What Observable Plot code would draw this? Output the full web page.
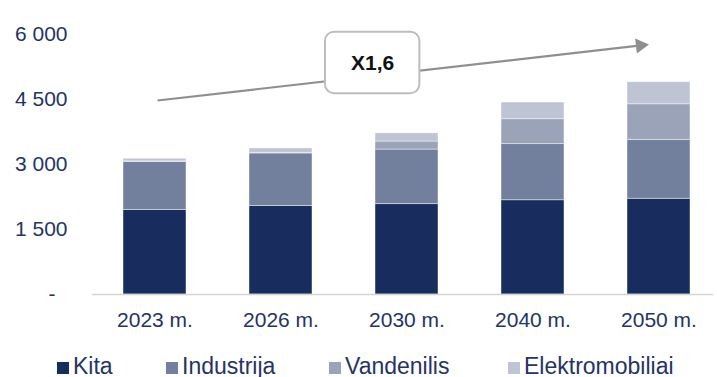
<!DOCTYPE html>
<html>
<head>
<meta charset="utf-8">
<script src="https://cdn.jsdelivr.net/npm/d3@7"></script>
<script src="https://cdn.jsdelivr.net/npm/@observablehq/plot@0.6"></script>
<style>
  html, body { margin: 0; padding: 0; background: #fff; }
  body { width: 717px; height: 377px; overflow: hidden; font-family: 'Liberation Sans', Arial, sans-serif; position: relative; }
  #legend { position: relative; height: 30px; font-size: 23px; line-height: 30px; color: #253462; white-space: nowrap; }
  #legend .item { position: absolute; top: -1px; display: inline-flex; align-items: baseline; }
  #legend .sw { display: inline-block; width: 11.5px; height: 12.5px; margin-right: 4.5px; margin-bottom: -1px; vertical-align: baseline; }
</style>
</head>
<body>
<div id="chart"></div>
<div id="legend"></div>
<script>
// ---- data ----
const years = ["2023 m.", "2026 m.", "2030 m.", "2040 m.", "2050 m."];
const series = ["Kita", "Industrija", "Vandenilis", "Elektromobiliai"];
const kita = [1950, 2040, 2085, 2175, 2210];
const industrija = [1110, 1215, 1260, 1295, 1360];
const vandenilis = [12, 15, 185, 575, 820];
const elektromobiliai = [60, 100, 190, 385, 510];
const yTicks = [0, 1500, 3000, 4500, 6000];
const yTickLabels = ["-", "1 500", "3 000", "4 500", "6 000"];
const colors = ["#182d5e", "#72809e", "#9ba3b8", "#bec4d4"];

// annotation (growth arrow) in data units
const growthLabel = "X1,6";
const arrowFrom = {x: 0.02, y: 4477};
const arrowTo = {x: 3.92, y: 5769};
const box = {x1: 1.353, x2: 2.102, y1: 4632, y2: 6053};

// legend layout (pixels from left)
const legendLeft = [57, 166, 329, 508];

const valuesBySeries = [kita, industrija, vandenilis, elektromobiliai];
const rows = [];
years.forEach((yr, i) => {
  series.forEach((s, k) => rows.push({i, year: yr, series: s, value: valuesBySeries[k][i]}));
});

const shaftEnd = {x: arrowFrom.x + 0.975 * (arrowTo.x - arrowFrom.x), y: arrowFrom.y + 0.975 * (arrowTo.y - arrowFrom.y)};

const fontFamily = "'Liberation Sans', Arial, sans-serif";
const textColor = "#253462";

const chart = Plot.plot({
  width: 717,
  height: 352,
  marginLeft: 92,
  marginRight: 4,
  marginTop: 34,
  marginBottom: 58,
  style: {fontFamily, color: textColor, background: "white", overflow: "visible"},
  x: {type: "linear", domain: [-0.5, 4.5], range: [91.5, 721.5], label: null},
  y: {domain: [0, 6000], label: null},
  color: {domain: series, range: colors},
  marks: [
    Plot.rectY(rows, {
      x1: d => d.i - 0.25, x2: d => d.i + 0.25, y: "value", fill: "series",
      stroke: "#ffffff", strokeOpacity: 0.55, strokeWidth: 0.8
    }),
    Plot.ruleY([0], {stroke: "#d4d4d4", strokeWidth: 1.6}),
    Plot.axisY(yTicks.slice(1), {
      tickSize: 0, tickPadding: 25, fontSize: 21, label: null,
      tickFormat: v => yTickLabels[yTicks.indexOf(v)]
    }),
    Plot.axisY([0], {
      tickSize: 0, tickPadding: 37, fontSize: 21, label: null,
      tickFormat: v => yTickLabels[yTicks.indexOf(v)]
    }),
    Plot.axisX(d3.range(years.length), {
      tickSize: 0, tickPadding: 18, fontSize: 21, label: null,
      tickFormat: i => years[i]
    }),
    Plot.link([0], {
      x1: () => arrowFrom.x, y1: () => arrowFrom.y,
      x2: () => shaftEnd.x, y2: () => shaftEnd.y,
      stroke: "#8f8f8f", strokeWidth: 2.2
    }),
    Plot.dot([0], {
      x: () => arrowTo.x, y: () => arrowTo.y, symbol: "triangle", r: 5.6,
      fill: "#8f8f8f", stroke: null, rotate: 83.5, dx: -8.6, dy: 1
    }),
    Plot.rect([0], {
      x1: () => box.x1, x2: () => box.x2, y1: () => box.y1, y2: () => box.y2,
      fill: "white", stroke: "#bdbdbd", strokeWidth: 2, rx: 9
    }),
    Plot.text([growthLabel], {
      x: () => (box.x1 + box.x2) / 2, y: () => (box.y1 + box.y2) / 2,
      text: d => d, fontSize: 21, fontWeight: "bold", fill: "#111111"
    })
  ]
});
document.getElementById("chart").append(chart);

const legend = document.getElementById("legend");
series.forEach((s, k) => {
  const item = document.createElement("span");
  item.className = "item";
  item.style.left = legendLeft[k] + "px";
  const sw = document.createElement("span");
  sw.className = "sw";
  sw.style.background = colors[k];
  const lab = document.createElement("span");
  lab.textContent = s;
  item.append(sw, lab);
  legend.append(item);
});
</script>
</body>
</html>
